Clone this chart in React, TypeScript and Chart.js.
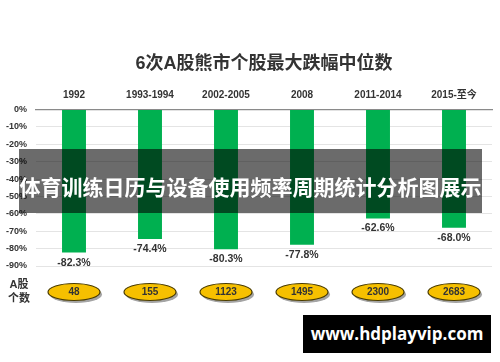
import React, { useEffect, useRef } from "react";
import { Chart, registerables } from "chart.js";

Chart.register(...registerables);

const title = "6次A股熊市个股最大跌幅中位数";
const categories = ["1992", "1993-1994", "2002-2005", "2008", "2011-2014", "2015-至今"];
const drawdowns = [-82.3, -74.4, -80.3, -77.8, -62.6, -68.0];
const stockCounts = [48, 155, 1123, 1495, 2300, 2683];
const countLabel = ["A股", "个数"];
const bannerText = "体育训练日历与设备使用频率周期统计分析图展示";
const watermarkText = "www.hdplayvip.com";

const FONT = '"Liberation Sans", "Noto Sans CJK SC", sans-serif';
const TEXT = "#333333";
const GREEN = "#00b050";

const extrasPlugin = {
  id: "extras",
  afterDatasetsDraw(chart: any) {
    const ctx = chart.ctx;
    const meta = chart.getDatasetMeta(0);
    ctx.save();
    ctx.font = `bold 10.5px ${FONT}`;
    ctx.fillStyle = TEXT;
    ctx.textAlign = "center";
    ctx.textBaseline = "middle";
    meta.data.forEach((bar: any, i: number) => {
      ctx.fillText(drawdowns[i].toFixed(1) + "%", bar.x, bar.y + 10);
    });
    ctx.restore();
  },
  afterDraw(chart: any) {
    const ctx = chart.ctx;
    const xs = chart.scales.x;
    const cy = chart.chartArea.bottom + 26;
    ctx.save();
    ctx.font = `bold 11px ${FONT}`;
    ctx.fillStyle = TEXT;
    ctx.textAlign = "center";
    ctx.textBaseline = "middle";
    ctx.fillText(countLabel[0], 19, cy - 7);
    ctx.fillText(countLabel[1], 19, cy + 7);
    stockCounts.forEach((v, i) => {
      const x = xs.getPixelForValue(i);
      ctx.beginPath();
      ctx.ellipse(x + 2, cy + 2.5, 26, 8.5, 0, 0, Math.PI * 2);
      ctx.fillStyle = "rgba(90,90,90,0.55)";
      ctx.fill();
      ctx.beginPath();
      ctx.ellipse(x, cy, 26, 8.5, 0, 0, Math.PI * 2);
      ctx.fillStyle = "#f6c000";
      ctx.fill();
      ctx.lineWidth = 1.2;
      ctx.strokeStyle = "#4a3c00";
      ctx.stroke();
      ctx.font = `bold 10px ${FONT}`;
      ctx.fillStyle = TEXT;
      ctx.fillText(String(v), x, cy + 0.5);
    });
    ctx.restore();
  },
};

export default function App() {
  const ref = useRef<HTMLCanvasElement>(null);
  useEffect(() => {
    if (!ref.current) return;
    const chart = new Chart(ref.current, {
      type: "bar",
      data: {
        labels: categories,
        datasets: [
          {
            data: drawdowns,
            backgroundColor: GREEN,
            borderWidth: 0,
            barPercentage: 0.63,
            categoryPercentage: 0.5,
          },
        ],
      },
      options: {
        responsive: false,
        animation: false,
        layout: { padding: { top: 0, left: 0, right: 8, bottom: 96 } },
        plugins: {
          legend: { display: false },
          tooltip: { enabled: false },
          title: {
            display: true,
            fullSize: false,
            text: title,
            color: TEXT,
            font: { family: FONT, size: 18, weight: "bold" },
            padding: { top: 53, bottom: 7 },
          },
        },
        scales: {
          x: {
            position: "top",
            grid: { display: false, drawTicks: false },
            border: { display: true, color: "#8a8a8a", width: 1.2 },
            ticks: {
              color: TEXT,
              font: { family: FONT, size: 10, weight: "bold" },
              padding: 8,
              maxRotation: 0,
              autoSkip: false,
            },
          },
          y: {
            min: -90,
            max: 0,
            border: { display: false },
            grid: { color: "#e4e4e4", drawTicks: false },
            afterFit: (scale: any) => {
              scale.width = 36;
            },
            ticks: {
              stepSize: 10,
              color: TEXT,
              padding: 9,
              font: { family: FONT, size: 9, weight: "bold" },
              callback: (v: any) => v + "%",
            },
          },
        },
      },
      plugins: [extrasPlugin],
    });
    return () => chart.destroy();
  }, []);

  return (
    <div style={{ position: "absolute", left: 0, top: 0, width: 500, height: 362, background: "#fff", overflow: "hidden" }}>
      <canvas ref={ref} width={500} height={362} style={{ display: "block" }} />
      <div
        style={{
          position: "absolute",
          left: 19,
          top: 149,
          width: 463,
          height: 64,
          background: "rgba(0,0,0,0.58)",
          color: "#fff",
          fontFamily: '"Noto Sans CJK SC", sans-serif',
          fontWeight: "bold",
          fontSize: 21,
          lineHeight: "64px",
          paddingTop: 10,
          boxSizing: "border-box",
          textAlign: "center",
          whiteSpace: "nowrap",
        }}
      >
        <span style={{ position: "relative", top: -5 }}>{bannerText}</span>
      </div>
      <div
        style={{
          position: "absolute",
          left: 303,
          top: 315,
          width: 188,
          height: 38,
          background: "#000",
          color: "#fff",
          fontFamily: '"Open Sans", sans-serif',
          fontWeight: "bold",
          fontSize: 17,
          lineHeight: "38px",
          textAlign: "center",
          whiteSpace: "nowrap",
        }}
      >
        {watermarkText}
      </div>
    </div>
  );
}
